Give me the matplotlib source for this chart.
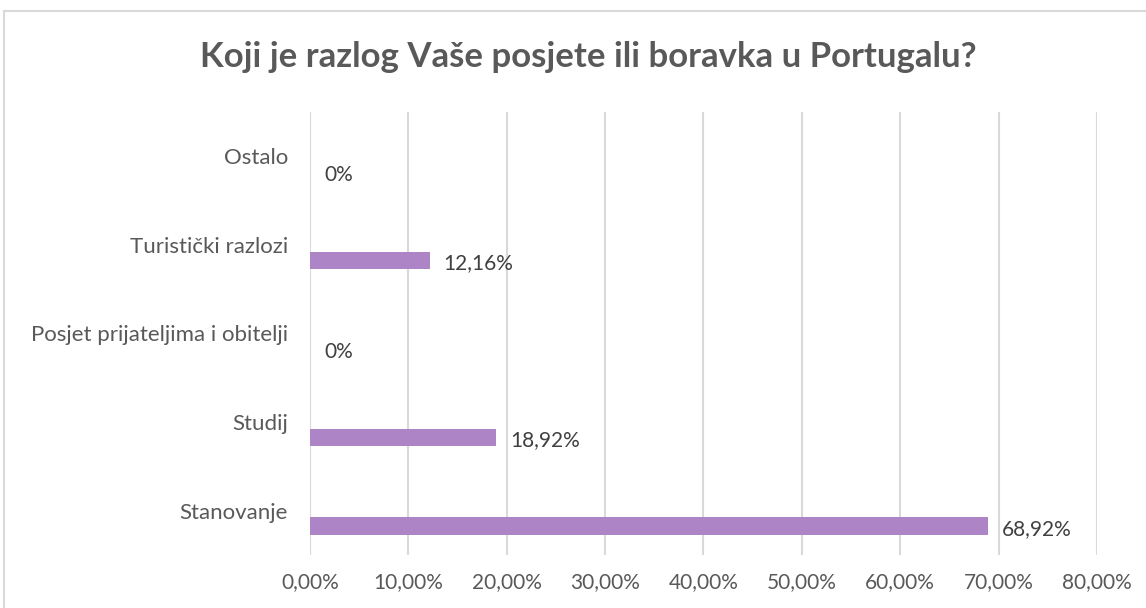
import matplotlib.pyplot as plt
from matplotlib.patches import Rectangle
from matplotlib.ticker import FuncFormatter, MultipleLocator

categories = ["Stanovanje", "Studij", "Posjet prijateljima i obitelji",
              "Turistički razlozi", "Ostalo"]
values = [68.92, 18.92, 0.0, 12.16, 0.0]
value_labels = ["68,92%", "18,92%", "0%", "12,16%", "0%"]

bar_color = "#AD84C6"
grid_color = "#D9D9D9"
text_color = "#595959"
label_color = "#404040"

plt.rcParams['font.family'] = ['Lato', 'DejaVu Sans']

fig = plt.figure(figsize=(11.46, 6.08), dpi=100)
ax = fig.add_axes([0.2705, 0.0872, 0.6867, 0.7286])

# frame around the whole chart, like Excel's chart area border
fig.patches.append(Rectangle((4 / 1146, -0.1), 1.2, 1.1 - 11 / 608,
                             transform=fig.transFigure, fill=False,
                             edgecolor=grid_color, linewidth=1.5))

pos = list(range(len(categories)))
bar_pos = [p - 0.175 for p in pos]
ax.barh(bar_pos, values, height=0.2, color=bar_color, zorder=3)

for y, v, lab in zip(bar_pos, values, value_labels):
    ax.annotate(lab, (v, y), xytext=(10, -2), textcoords="offset points",
                ha="left", va="center", fontsize=15, color=label_color)

ax.set_xlim(0, 80)
ax.set_ylim(-0.5, len(categories) - 0.5)
ax.xaxis.set_major_locator(MultipleLocator(10))
ax.xaxis.set_major_formatter(FuncFormatter(lambda x, _: f"{x:.2f}%".replace(".", ",")))
ax.set_yticks(pos)
ax.set_yticklabels(categories, fontsize=16)
ax.tick_params(axis="both", length=0, labelcolor=text_color)
ax.tick_params(axis="x", labelsize=15, pad=12)
ax.tick_params(axis="y", pad=16)
for t in ax.get_yticklabels():
    t.set_y(t.get_position()[1])
ax.grid(axis="x", color=grid_color, linewidth=1.5, zorder=0)
for s in ax.spines.values():
    s.set_visible(False)

fig.text(0.5 * (197 + 979) / 1146, 1 - 57 / 608,
         "Koji je razlog Vaše posjete ili boravka u Portugalu?",
         ha="center", va="center", fontsize=25, fontweight="bold",
         color=text_color)

fig.savefig("out.png", dpi=100, facecolor="white")
